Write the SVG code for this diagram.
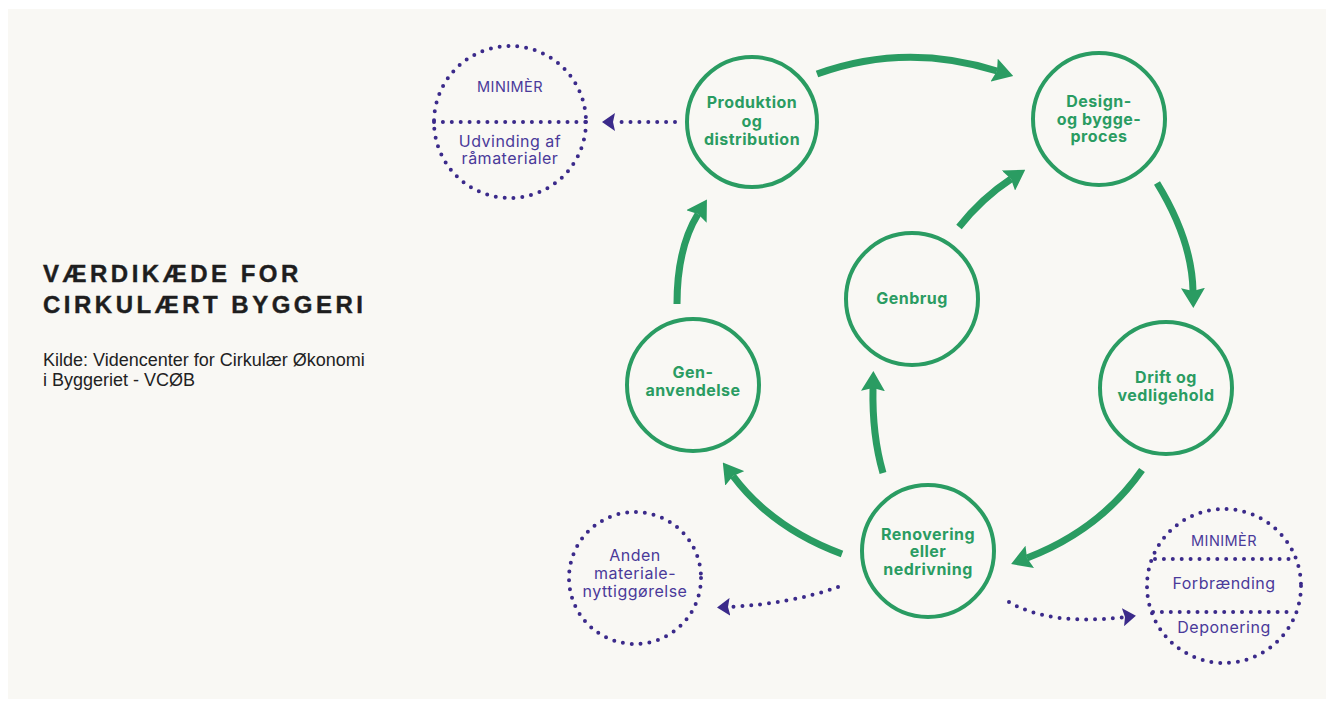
<svg xmlns="http://www.w3.org/2000/svg" width="1326" height="704" viewBox="0 0 1326 704">
<defs>
<style>
.node{fill:none;stroke:#2a9c62;stroke-width:4}
.nt{font-family:Inter,"Noto Sans",sans-serif;font-weight:700;font-size:16px;letter-spacing:0.5px;fill:#2a9c62;text-anchor:middle}
.dc{fill:none;stroke:#3b2a8a;stroke-width:4;stroke-linecap:round;stroke-dasharray:0 8.9}
.pt{font-family:Inter,"Noto Sans",sans-serif;font-weight:400;font-size:16px;letter-spacing:0.5px;fill:#4a3a9a;text-anchor:middle}
.pts{font-size:14.5px;letter-spacing:0.4px}
.ga{fill:none;stroke:#2a9c62;stroke-width:7}
.pa{fill:none;stroke:#3b2a8a;stroke-width:4;stroke-linecap:round;stroke-dasharray:0 8.9}
.title{font-family:"Liberation Sans",Arial,sans-serif;font-weight:700;font-size:24px;letter-spacing:3.5px;fill:#1e1e1e;stroke:#1e1e1e;stroke-width:0.4}
.sub{font-family:"Liberation Sans",Arial,sans-serif;font-size:18px;fill:#222}
</style>
<marker id="ga" markerUnits="userSpaceOnUse" viewBox="0 0 20 24" markerWidth="20" markerHeight="24" refX="3" refY="12" orient="auto">
<path d="M0,0 L20,12 L0,24 L3,12 z" fill="#2a9c62"/>
</marker>
<marker id="pa" markerUnits="userSpaceOnUse" viewBox="0 0 13 18" markerWidth="13" markerHeight="18" refX="2" refY="9" orient="auto">
<path d="M0,0 L13,9 L0,18 L2,9 z" fill="#3b2a8a"/>
</marker>
</defs>
<rect width="1326" height="704" fill="#ffffff"/>
<rect x="8" y="9" width="1318" height="690" fill="#f9f8f4"/>

<g id="title">
<text class="title" x="43" y="282">VÆRDIKÆDE FOR</text>
<text class="title" x="43" y="313">CIRKULÆRT BYGGERI</text>
<text class="sub" x="43" y="366">Kilde: Videncenter for Cirkulær Økonomi</text>
<text class="sub" x="43" y="386">i Byggeriet - VCØB</text>
</g>

<g id="connectors">
<path class="ga" d="M817,74 Q905,42 997,71" marker-end="url(#ga)"/>
<path class="ga" d="M1157,183 Q1192,240 1193,291" marker-end="url(#ga)"/>
<path class="ga" d="M959,227 Q982,198 1011,179" marker-end="url(#ga)"/>
<path class="ga" d="M1142,470 Q1100,530 1027,558" marker-end="url(#ga)"/>
<path class="ga" d="M842,554 Q772,528 733,476" marker-end="url(#ga)"/>
<path class="ga" d="M883,473 Q872,435 873,388" marker-end="url(#ga)"/>
<path class="ga" d="M677,304 Q677,248 698,214" marker-end="url(#ga)"/>
<path class="pa" d="M675,122 L613,122" marker-end="url(#pa)"/>
<path class="pa" d="M838,587 Q790,604 728,607" marker-end="url(#pa)"/>
<path class="pa" d="M1009,602 Q1050,626 1125,617" marker-end="url(#pa)"/>
</g>

<g id="produktion">
<circle class="node" cx="752" cy="122" r="65"/>
<text class="nt" x="752" y="108">Produktion</text>
<text class="nt" x="752" y="127">og</text>
<text class="nt" x="752" y="145">distribution</text>
</g>
<g id="design">
<circle class="node" cx="1099" cy="119" r="66"/>
<text class="nt" x="1099" y="107">Design-</text>
<text class="nt" x="1099" y="125">og bygge-</text>
<text class="nt" x="1099" y="142">proces</text>
</g>
<g id="genbrug">
<circle class="node" cx="912" cy="299" r="66"/>
<text class="nt" x="912" y="304">Genbrug</text>
</g>
<g id="genanvendelse">
<circle class="node" cx="693" cy="385" r="66"/>
<text class="nt" x="693" y="378">Gen-</text>
<text class="nt" x="693" y="396">anvendelse</text>
</g>
<g id="drift">
<circle class="node" cx="1166" cy="388" r="66"/>
<text class="nt" x="1166" y="383">Drift og</text>
<text class="nt" x="1166" y="401">vedligehold</text>
</g>
<g id="renovering">
<circle class="node" cx="928" cy="551" r="66"/>
<text class="nt" x="928" y="540">Renovering</text>
<text class="nt" x="928" y="557">eller</text>
<text class="nt" x="928" y="575">nedrivning</text>
</g>

<g id="minimer-top">
<circle class="dc" cx="510" cy="122" r="76"/>
<path class="dc" d="M434,122 L586,122"/>
<text class="pt pts" x="510" y="92">MINIMÈR</text>
<text class="pt" x="510" y="147">Udvinding af</text>
<text class="pt" x="510" y="164">råmaterialer</text>
</g>
<g id="anden">
<circle class="dc" cx="635" cy="578" r="66"/>
<text class="pt" x="635" y="561">Anden</text>
<text class="pt" x="635" y="579">materiale-</text>
<text class="pt" x="635" y="597">nyttiggørelse</text>
</g>
<g id="minimer-bottom">
<circle class="dc" cx="1224" cy="586" r="77"/>
<path class="dc" d="M1155,559 L1295,559"/>
<path class="dc" d="M1153,612 L1295,612"/>
<text class="pt pts" x="1224" y="546">MINIMÈR</text>
<text class="pt" x="1224" y="589">Forbrænding</text>
<text class="pt" x="1224" y="633">Deponering</text>
</g>
</svg>
